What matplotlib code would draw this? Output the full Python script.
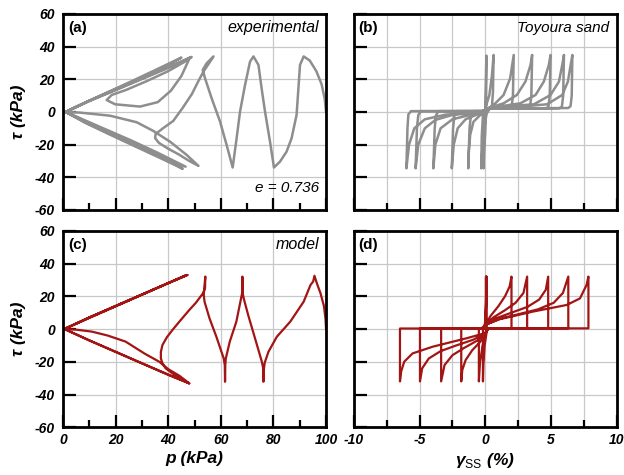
import matplotlib.pyplot as plt
from matplotlib.ticker import MultipleLocator

plt.rcParams['font.family'] = ['Liberation Sans', 'DejaVu Sans']
plt.rcParams['axes.unicode_minus'] = False
plt.rcParams['mathtext.fontset'] = 'custom'
plt.rcParams['mathtext.rm'] = 'Liberation Sans'

# (a) experimental stress path, p (kPa) vs tau (kPa)
p_exp = [100, 99.5, 98.3, 96.3, 93.8, 91.5,
         90.1, 89.5, 88.8, 86.9, 85, 82.5, 80.2,
         78.7, 76.8, 75.5, 74.3, 72.4,
         71.1, 69.2, 67.3, 66, 64.5,
         62.2, 59.7, 56.5, 54, 53.1, 54.6, 57.2,
         55.8, 53.5, 51.5, 49, 45.5, 41.9, 38, 35.2, 35, 36.5, 40, 44, 48, 51.5,
         47, 40.7, 34.3, 28, 17.9, 6.5, 1,
         10, 20, 30, 40, 48.9,
         46, 40, 32, 24, 18.5, 16.6, 19.8, 29.3, 36, 41, 45, 48.2,
         40, 30, 20, 10, 1,
         10, 20, 30, 40, 45.5,
         38, 28, 18, 8, 1,
         10, 20, 30, 40, 45,
         35, 25, 15, 5, 1,
         10, 20, 30, 40, 46.6,
         36, 26, 16, 6, 1]
tau_exp_a = [0, 8, 17, 25, 31.5, 34,
             28.8, 14.5, -1.8, -16.1, -24.3, -30.4, -34,
             -18.2, 0.2, 14.5, 28.8, 34,
             30.8, 16.5, 0.2, -16.1, -34,
             -20.2, -5.9, 8.4, 20.6, 25.7, 29.8, 34,
             30.5, 25, 19, 11, 2.5, -5.5, -10, -13.5, -16, -19, -22.5, -26, -30, -33,
             -26.3, -18.2, -11.6, -6.3, -2.3, -0.4, 0,
             6.8, 13.6, 20.4, 27.3, 33.7,
             30.5, 25, 19, 13.5, 10.4, 7.3, 4.7, 3.3, 6, 13, 22, 33.2,
             27, 20.2, 13.4, 6.7, 0,
             -7, -14.3, -21.7, -29, -34.8,
             -29, -21.5, -14, -6.3, 0,
             6.9, 14, 21, 28.5, 33.3,
             25.6, 18, 10.6, 3.3, 0,
             -7.5, -15, -22.5, -30, -33.5,
             -25, -17.5, -10.5, -3.5, 0]

# (b) experimental stress-strain, gamma_ss (%) vs tau (kPa)
gam_exp = [0, 0.03, 0.08, 0.07, 0.05,
           0.0, -0.1, -0.13, -0.1, -0.05,
           0.1, 0.3, 0.5, 0.63, 0.58, 0.5, 0.35,
           0.1, -0.05, -0.2, -0.31, -0.27, -0.18, -0.05,
           0.2, 0.64, 1.39, 1.89, 2.16, 2.1, 2.0, 1.8, 0.3,
           0.1, -0.4, -0.9, -1.15, -1.25, -1.3, -1.2, -1.1, -0.9, -0.2,
           0.2, 1.39, 2.4, 3.05, 3.44, 3.56, 3.5, 3.4, 3.2, 0.3,
           0.1, -0.6, -1.5, -2.1, -2.4, -2.55, -2.45, -2.35, -2.15, -0.2,
           0.2, 1.2, 2.67, 3.82, 4.45, 4.83, 4.96, 4.9, 4.8, 4.6, 0.3,
           0.1, -1.0, -2.5, -3.4, -3.8, -3.95, -3.85, -3.75, -3.55, -0.2,
           0.2, 1.5, 3.7, 4.96, 5.6, 5.85, 5.98, 5.92, 5.82, 5.62, 0.3,
           0.1, -2.5, -3.8, -4.6, -5.1, -5.3, -5.2, -5.1, -4.9, -0.2,
           0.2, 2.0, 4.7, 5.85, 6.28, 6.49, 6.62, 6.57, 6.48, 6.3, 0.3,
           0.1, -3.0, -4.6, -5.4, -5.8, -6.0, -5.92, -5.85, -5.65, -0.2]
tau_exp_b = [0, 15, 34.5, 15, 1.5,
             -12, -25, -34.5, -15, 0,
             5, 10, 22, 34.9, 12, 3, 2.2,
             -1, -8, -20, -34.5, -15, -2, 0.5,
             2.2, 4.3, 10.4, 20.6, 34.9, 10, 3, 2.3, 2.0,
             0, -2, -6, -14, -24, -34.5, -10, -2, 0.5, 0.5,
             2.2, 5.3, 10.4, 18.6, 28.8, 34.9, 10, 3, 2.3, 2.0,
             0, -1.5, -4.5, -10, -20, -34.5, -10, -2, 0.5, 0.5,
             2.2, 3.5, 5.3, 10.4, 18.6, 28.8, 34.9, 10, 3, 2.3, 2.0,
             0, -1.5, -4.5, -10, -20, -34.5, -10, -2, 0.5, 0.5,
             2.2, 3.3, 4.7, 10.4, 18.6, 28.8, 34.9, 10, 3, 2.3, 2.0,
             0, -1.8, -4.9, -10, -20, -34.5, -10, -2, 0.5, 0.5,
             2.2, 2.8, 4.7, 10.4, 18.6, 28.8, 34.9, 10, 3.5, 2.4, 2.0,
             0, -1.6, -4.5, -10, -20, -34.5, -10, -1.5, 0.5, 0.5]

# (c) model stress path
p_mod = [100, 99.8, 99.2, 97.9, 96.6, 95.6,
         95.1, 94.1, 91.5, 86.4, 81.3, 78.1, 76.7, 76.4, 76.2,
         76.1, 75.6, 73, 70.4, 68.7, 68.3, 68.2,
         68.1, 67.6, 65.9, 63.4, 61.9, 61.7, 61.6,
         61.5, 61.1, 58.3, 55.7, 53.8, 53.5, 53.7, 54.1,
         54.0, 53.3, 50.5, 48, 44.5, 41.6, 39.5, 37.8, 37.2, 37.2, 37.8, 39, 41.5, 44.5, 48,
         44.2, 40, 36.6, 31, 23.8, 17, 11, 5, 0.5,
         10, 20, 30, 40, 47.3,
         40, 30, 20, 10, 0.5,
         10, 20, 30, 40, 48,
         40, 30, 20, 10, 0.5,
         10, 20, 30, 40, 47, 0.5]
tau_mod_c = [0, 6, 14, 21.8, 27.5, 32.5,
             29, 26.9, 16.7, 4.5, -4.7, -13.9, -20.5, -24, -32.2,
             -24, -20, -5.7, 8.5, 18.7, 22, 32,
             22, 18, 4.5, -7.7, -17.9, -22, -32.2,
             -22, -18, -4.7, 6.5, 16.7, 21, 25, 32,
             25, 22, 16, 11.6, 5, -0.6, -5, -9.8, -14, -17.9, -21, -24, -27, -30, -33.2,
             -28.5, -24.5, -20, -15, -7.7, -4, -1.6, -0.4, 0,
             7, 14, 21, 28, 33,
             28, 21, 14, 7, 0,
             -7, -14, -21, -28, -33.2,
             -27.8, -20.9, -13.9, -6.9, 0,
             7.1, 14.1, 21.1, 28.1, 33, 0]

# (d) model stress-strain
gam_mod = [0, 0.02, 0.05, 0.05, 0.05, 0.2,
           0.1, -0.05, -0.15, -0.18, -0.18, -0.1,
           0.0, 0.08, 0.1, 0.1,
           0.05, -0.2, -0.4, -0.49, -0.49, -0.3,
           0.0, 0.4, 1.0, 1.5, 1.85, 1.99, 1.99, 0.2,
           0.0, -0.4, -1.0, -1.5, -1.75, -1.83, -1.83, -0.2,
           0.0, 0.6, 1.5, 2.3, 2.9, 3.18, 3.18, 0.2,
           0.0, -0.6, -1.6, -2.5, -3.1, -3.36, -3.36, -0.2,
           0.0, 0.8, 2.0, 3.2, 4.1, 4.6, 4.78, 4.78, 0.2,
           0.0, -0.9, -2.2, -3.4, -4.3, -4.8, -4.97, -4.97, -0.2,
           0.0, 1.0, 2.5, 4.0, 5.2, 5.9, 6.31, 6.31, 0.2,
           0.0, -1.45, -4.0, -5.53, -6.17, -6.4, -6.49, -6.49, -0.2,
           0.0, 1.1, 3.6, 6.2, 7.2, 7.7, 7.84, 7.84, 0.2]
tau_mod_d = [0, 10, 20, 32, 0.4, 0.3,
             -2, -10, -22, -32, -0.3, 0.2,
             5, 18, 32, 0.4,
             -2, -10, -20, -32, 0.3, 0.3,
             2.5, 8, 14, 20, 26, 32, 0.4, 0.3,
             -2.5, -8, -13, -19, -25, -32, 0.3, 0.3,
             2.5, 7, 11.5, 16, 22, 32, 0.4, 0.3,
             -2.5, -7, -11.5, -16, -22, -32, 0.3, 0.3,
             2.5, 6.5, 10, 13.5, 18, 24, 32, 0.4, 0.3,
             -2.5, -6.5, -10, -13.5, -18, -24, -32, 0.3, 0.3,
             2.5, 6, 9, 12, 16, 22, 32, 0.4, 0.3,
             -2.5, -5.7, -10.8, -14.9, -20, -26, -32, 0.3, 0.3,
             2.5, 6, 10.6, 14.7, 18.7, 26.9, 32, 0.4, 0.3]

grey = '#8e8e8e'
red = '#a31515'

fig = plt.figure(figsize=(6.24, 4.75), dpi=100)
ax_a = fig.add_axes([0.101, 0.558, 0.4215, 0.4126])
ax_b = fig.add_axes([0.567, 0.558, 0.4215, 0.4126])
ax_c = fig.add_axes([0.101, 0.1005, 0.4215, 0.4137])
ax_d = fig.add_axes([0.567, 0.1005, 0.4215, 0.4137])


def style(ax, xlim, major, minor, minor_grid):
    ax.set_xlim(xlim)
    ax.set_ylim(-60, 60)
    ax.xaxis.set_major_locator(MultipleLocator(major))
    ax.xaxis.set_minor_locator(MultipleLocator(minor))
    ax.yaxis.set_major_locator(MultipleLocator(20))
    ax.set_axisbelow(True)
    ax.grid(True, which='major', color='#c8c8c8', lw=0.9)
    if minor_grid:
        ax.grid(True, which='minor', axis='x', color='#c8c8c8', lw=0.9)
    ax.tick_params(which='major', direction='in', length=9, width=1.6, labelsize=10, pad=4)
    ax.tick_params(which='minor', direction='in', length=5, width=1.6)
    ax.tick_params(axis='y', which='minor', left=False)
    ax.tick_params(axis='y', pad=6)
    for s in ax.spines.values():
        s.set_linewidth(2)
    for lab in ax.get_xticklabels() + ax.get_yticklabels():
        lab.set_fontweight('bold')
        lab.set_fontstyle('italic')


style(ax_a, (0, 100), 20, 10, False)
style(ax_c, (0, 100), 20, 10, False)
style(ax_b, (-10, 10), 5, 2.5, True)
style(ax_d, (-10, 10), 5, 2.5, True)
ax_a.tick_params(labelbottom=False)
ax_b.tick_params(labelbottom=False, labelleft=False)
ax_d.tick_params(labelleft=False)

ax_a.plot(p_exp, tau_exp_a, color=grey, lw=1.8, solid_joinstyle='round')
ax_b.plot(gam_exp, tau_exp_b, color=grey, lw=1.8, solid_joinstyle='round')
ax_c.plot(p_mod, tau_mod_c, color=red, lw=1.6, solid_joinstyle='round')
ax_d.plot(gam_mod, tau_mod_d, color=red, lw=1.6, solid_joinstyle='round')

for ax, tag in [(ax_a, '(a)'), (ax_b, '(b)'), (ax_c, '(c)'), (ax_d, '(d)')]:
    ax.text(0.018, 0.93, tag, transform=ax.transAxes, fontsize=11,
            fontweight='bold', ha='left', va='center')

ax_a.text(0.973, 0.93, 'experimental', transform=ax_a.transAxes, fontsize=11.5,
          style='italic', ha='right', va='center')
ax_a.text(0.973, 0.11, 'e = 0.736', transform=ax_a.transAxes, fontsize=11,
          style='italic', ha='right', va='center')
ax_b.text(0.971, 0.93, 'Toyoura sand', transform=ax_b.transAxes, fontsize=11,
          style='italic', ha='right', va='center')
ax_c.text(0.973, 0.93, 'model', transform=ax_c.transAxes, fontsize=11.5,
          style='italic', ha='right', va='center')

lab_kw = dict(fontsize=12.5, fontweight='bold', style='italic')
ax_a.set_ylabel('τ (kPa)', labelpad=6, **lab_kw)
ax_c.set_ylabel('τ (kPa)', labelpad=6, **lab_kw)
ax_c.set_xlabel('p (kPa)', labelpad=3, **lab_kw)
ax_d.set_xlabel('γ$_{\\mathrm{SS}}$ (%)', labelpad=3, **lab_kw)

fig.savefig('out.png', dpi=100)
